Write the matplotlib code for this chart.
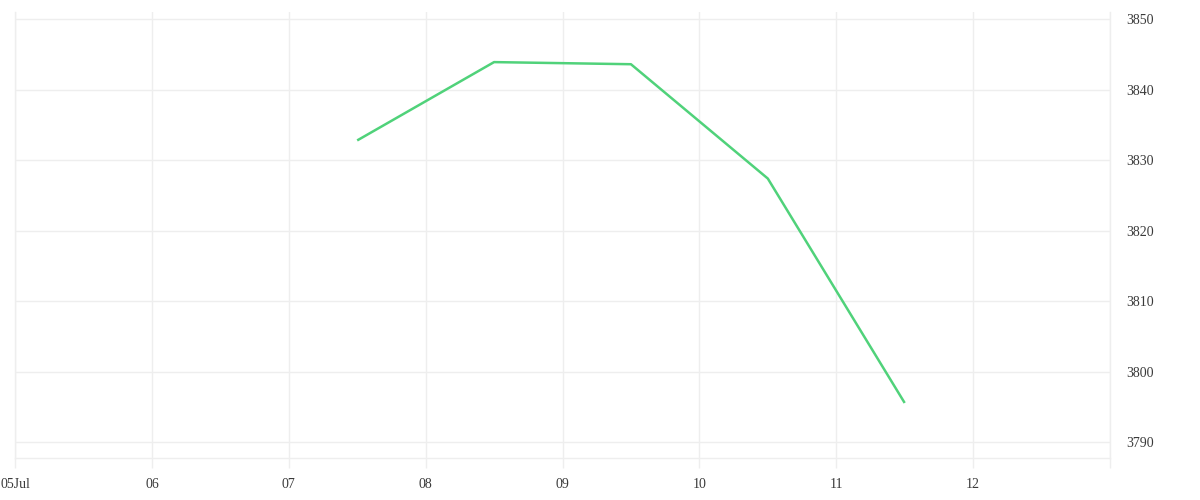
import numpy as np
import pandas as pd
import matplotlib
matplotlib.use("Agg")
import matplotlib.pyplot as plt
import matplotlib.dates as mdates

# data
dates = pd.to_datetime(["2023-07-07 12:00", "2023-07-08 12:00", "2023-07-09 12:00",
                        "2023-07-10 12:00", "2023-07-11 12:00"])
values = [3832.8, 3843.9, 3843.6, 3827.4, 3795.6]

tick_days = pd.date_range("2023-07-05", "2023-07-13", freq="D")
tick_labels = ["05Jul", "06", "07", "08", "09", "10", "11", "12", ""]
y_ticks = [3790, 3800, 3810, 3820, 3830, 3840, 3850]

grid_col = "#eeeeee"
text_col = "#3a3a3a"

plt.rcParams["font.family"] = ["Liberation Serif", "DejaVu Serif"]

fig = plt.figure(figsize=(12, 5), dpi=100)
ax = fig.add_axes([15 / 1200, 1 - 458 / 500, (1110 - 15) / 1200, (458 - 12) / 500])

ax.plot(dates, values, color="#50d27a", linewidth=1.8, solid_capstyle="butt")

ax.set_xlim(tick_days[0], tick_days[-1])
ax.set_ylim(3787.8, 3851.0)

ax.set_xticks(tick_days)
ax.set_xticklabels(tick_labels)
ax.set_yticks(y_ticks)

ax.yaxis.tick_right()
ax.grid(True, color=grid_col, linewidth=1)
ax.set_axisbelow(True)

for side in ["left", "right", "bottom"]:
    ax.spines[side].set_color(grid_col)
    ax.spines[side].set_linewidth(1)
ax.spines["top"].set_visible(False)

ax.tick_params(axis="x", length=7.5, width=1, color=grid_col, labelsize=10,
               labelcolor=text_col, pad=7)
ax.tick_params(axis="y", length=0, labelsize=10, labelcolor=text_col, pad=12)

fig.savefig("out.png", dpi=100)
